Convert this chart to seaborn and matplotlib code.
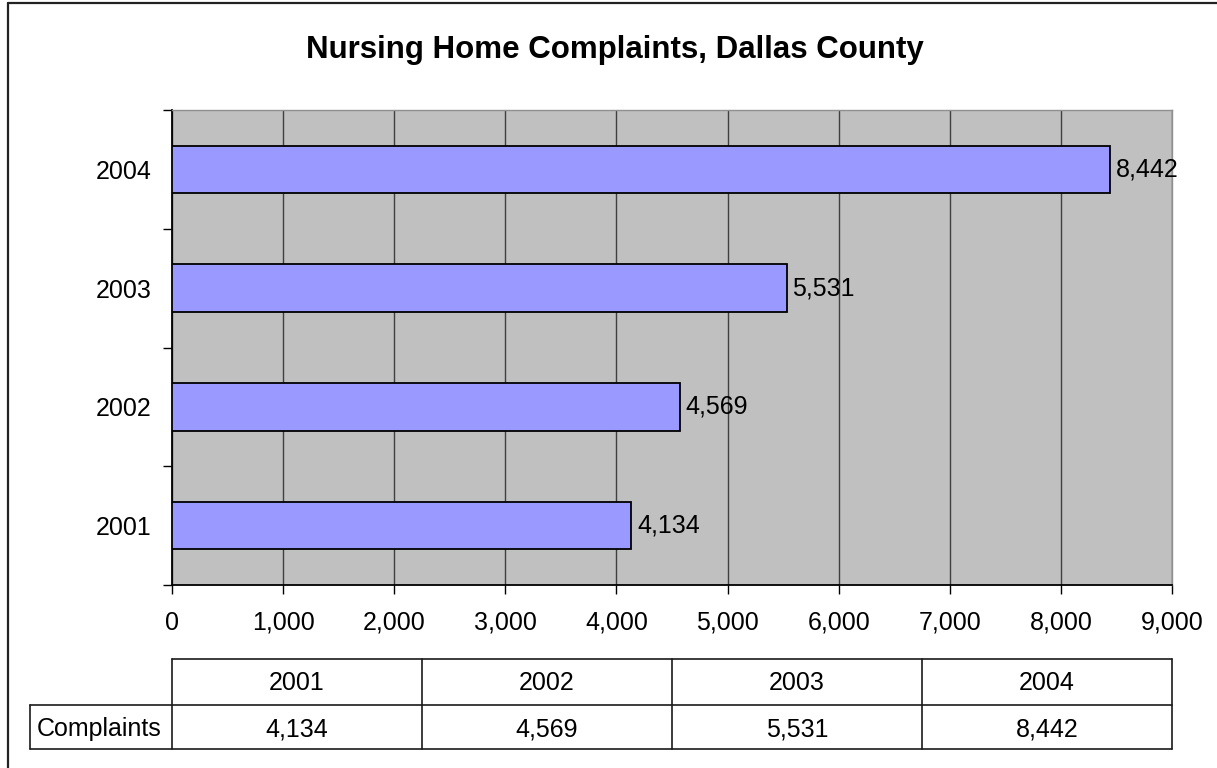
import matplotlib
matplotlib.use("Agg")
import matplotlib.pyplot as plt
from matplotlib.lines import Line2D
import seaborn as sns
import pandas as pd

years = ["2001", "2002", "2003", "2004"]
complaints = [4134, 4569, 5531, 8442]
row_label = "Complaints"
title = "Nursing Home Complaints, Dallas County"
x_ticks = [0, 1000, 2000, 3000, 4000, 5000, 6000, 7000, 8000, 9000]

W, H = 1217, 768
FS = 18
sns.set_theme(style="white")
plt.rcParams["font.family"] = ["Liberation Sans", "DejaVu Sans"]

df = pd.DataFrame({"year": years, "complaints": complaints})

fig = plt.figure(figsize=(W / 100, H / 100), dpi=100)
fig.patch.set_facecolor("white")


def fx(px):
    return px / W


def fy(py):
    return 1 - py / H


left, right, top, bottom = 172, 1172, 110, 585
ax = fig.add_axes([fx(left), fy(bottom), fx(right) - fx(left), fy(top) - fy(bottom)])
ax.set_facecolor("#C0C0C0")

sns.barplot(data=df, x="complaints", y="year", order=years[::-1], orient="h",
            color="#9999FF", saturation=1, width=0.4, edgecolor="black",
            linewidth=1.3, ax=ax, zorder=3)

ax.set_xlim(0, 9000)
ax.set_ylim(3.5, -0.5)
ax.set_xticks(x_ticks)
ax.set_xticklabels([f"{v:,}" for v in x_ticks], fontsize=FS, color="black")
ax.tick_params(axis="x", bottom=True, direction="out", length=6.5, width=1,
               color="black", pad=12)
ax.set_yticks(range(4))
ax.set_yticklabels(years[::-1], fontsize=FS, color="black")
ax.tick_params(axis="y", which="major", left=True, length=0, pad=15)
ax.set_yticks([-0.5, 0.5, 1.5, 2.5, 3.5], minor=True)
ax.tick_params(axis="y", which="minor", left=True, direction="out", length=6.5,
               width=1, color="black")
ax.set_xlabel("")
ax.set_ylabel("")
ax.grid(axis="x", color="#404040", linewidth=1, zorder=0)
ax.set_axisbelow(True)
for s in ["left", "bottom"]:
    ax.spines[s].set_color("black")
    ax.spines[s].set_linewidth(1.3)
for s in ["top", "right"]:
    ax.spines[s].set_color("#909090")
    ax.spines[s].set_linewidth(1)

for cont in ax.containers:
    ax.bar_label(cont, labels=[f"{int(b.get_width()):,}" for b in cont],
                 padding=4, fontsize=FS, color="black")

fig.text(fx(615), fy(58), title, ha="center", va="baseline", fontsize=22.5,
         fontweight="bold", color="black")

# data table under the plot
lc = "#1a1a1a"
lw = 1.2


def hline(y, x0, x1):
    fig.add_artist(Line2D([fx(x0), fx(x1)], [fy(y), fy(y)], color=lc, lw=lw,
                          transform=fig.transFigure))


def vline(x, y0, y1):
    fig.add_artist(Line2D([fx(x), fx(x)], [fy(y0), fy(y1)], color=lc, lw=lw,
                          transform=fig.transFigure))


t_top, t_mid, t_bot = 659, 705, 749
cell_left = 30
hline(t_top, left, right)
hline(t_mid, cell_left, right)
hline(t_bot, cell_left, right)
vline(cell_left, t_mid, t_bot)
col_w = (right - left) / len(years)
for i in range(len(years) + 1):
    vline(left + i * col_w, t_top, t_bot)
for i, (yr, val) in enumerate(zip(years, complaints)):
    cx = left + (i + 0.5) * col_w
    fig.text(fx(cx), fy(690), yr, ha="center", va="baseline",
             fontsize=FS, color="black")
    fig.text(fx(cx), fy(736), f"{val:,}", ha="center",
             va="baseline", fontsize=FS, color="black")
fig.text(fx(37), fy(736), row_label, ha="left", va="baseline",
         fontsize=FS, color="black")

# outer chart border (left and top edges inside the canvas)
fig.add_artist(Line2D([fx(8), fx(8)], [fy(3), fy(H + 5)], color="#222222",
                      lw=1.6, transform=fig.transFigure))
fig.add_artist(Line2D([fx(8), fx(W + 5)], [fy(3), fy(3)], color="#222222",
                      lw=1.6, transform=fig.transFigure))

fig.savefig("out.png", dpi=100)
